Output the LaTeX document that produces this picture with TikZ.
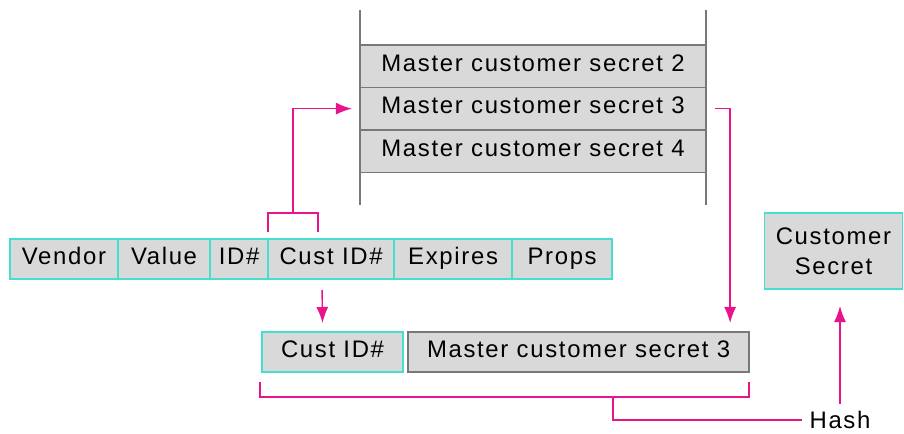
\documentclass[tikz,border=0pt]{standalone}
\usepackage{fontspec}
\setmainfont{Liberation Sans}[LetterSpace=7]
\usetikzlibrary{positioning,arrows.meta}
\definecolor{cellteal}{RGB}{70,222,206}
\definecolor{cellgray}{RGB}{217,217,217}
\definecolor{linkpink}{RGB}{232,20,140}
\definecolor{wallgray}{RGB}{120,120,120}
\begin{document}
\begin{tikzpicture}[x=0.025cm,y=-0.025cm,
  font=\fontsize{17}{21.3}\selectfont,
  field/.style={draw=cellteal,fill=cellgray,line width=1.2pt,minimum height=1cm,inner sep=0pt,outer sep=0pt,text height=0.76em,text depth=0pt},
  slot/.style={draw=wallgray,fill=cellgray,line width=1pt,minimum width=8.65cm,minimum height=1.06cm,inner sep=0pt,outer sep=0pt,text height=0.76em,text depth=0pt},
  wall/.style={draw=wallgray,line width=1pt},
  link/.style={draw=linkpink,line width=1pt},
  tip/.style={-{Latex[length=0.4cm,width=0.3cm]}}]
\useasboundingbox (0,0) rectangle (904,434);

\node[field,anchor=west,minimum width=2.7cm] (vendor) at (10,259) {Vendor};
\node[field,right=0pt of vendor,minimum width=2.3cm] (value) {Value};
\node[field,right=0pt of value,minimum width=1.45cm] (id) {ID\#};
\node[field,right=0pt of id,minimum width=3.15cm] (cust) {Cust ID\#};
\node[field,right=0pt of cust,minimum width=2.95cm] (expires) {Expires};
\node[field,right=0pt of expires,minimum width=2.5cm] (props) {Props};

\node[slot,anchor=north] (s2) at (533,45) {Master customer secret 2};
\node[slot,below=0pt of s2] (s3) {Master customer secret 3};
\node[slot,below=0pt of s3] (s4) {Master customer secret 4};
\draw[wall] (s2.north west) -- ++(0,-35);
\draw[wall] (s2.north east) -- ++(0,-35);
\draw[wall] (s4.south west) -- ++(0,33);
\draw[wall] (s4.south east) -- ++(0,33);

\node[field,anchor=west,minimum width=3.525cm] (cid) at (262,352) {Cust ID\#};
\node[slot,right=0.125cm of cid,minimum width=8.525cm,minimum height=1cm] (m3) {Master customer secret 3};

\node[field,minimum width=3.45cm,minimum height=1.9cm,align=center,text height=,text depth=] (csec) at (833.5,251) {Customer\\Secret};
\node[inner sep=2pt] (hash) at (840,420) {Hash};

\coordinate (tl) at ([yshift=0.175cm]cust.north west);
\coordinate (tr) at ([xshift=1.25cm,yshift=0.175cm]cust.north west);
\coordinate (tm) at (293,213);
\draw[link] (tl) -- ++(0,-19) -| (tr);
\draw[link,tip,shorten >=0.2cm] (tm) |- (s3.west);

\draw[link,tip] ([xshift=0.225cm]s3.east) -| ([xshift=-0.475cm,yshift=0.225cm]m3.north east);
\draw[link,tip] ([xshift=-0.225cm,yshift=-0.275cm]cust.south) -- ([xshift=-0.25cm,yshift=0.225cm]cid.north);

\coordinate (bl) at ([xshift=-0.05cm,yshift=-0.25cm]cid.south west);
\coordinate (br) at ([yshift=-0.25cm]m3.south east);
\coordinate (bm) at (613,397);
\draw[link] (bl) -- ++(0,15) -| (br);
\draw[link] (bm) |- ([xshift=-0.1cm]hash.west);
\draw[link,tip,shorten >=0.425cm] ([yshift=0.1cm]hash.north) -- (hash.north |- csec.south);
\end{tikzpicture}
\end{document}
